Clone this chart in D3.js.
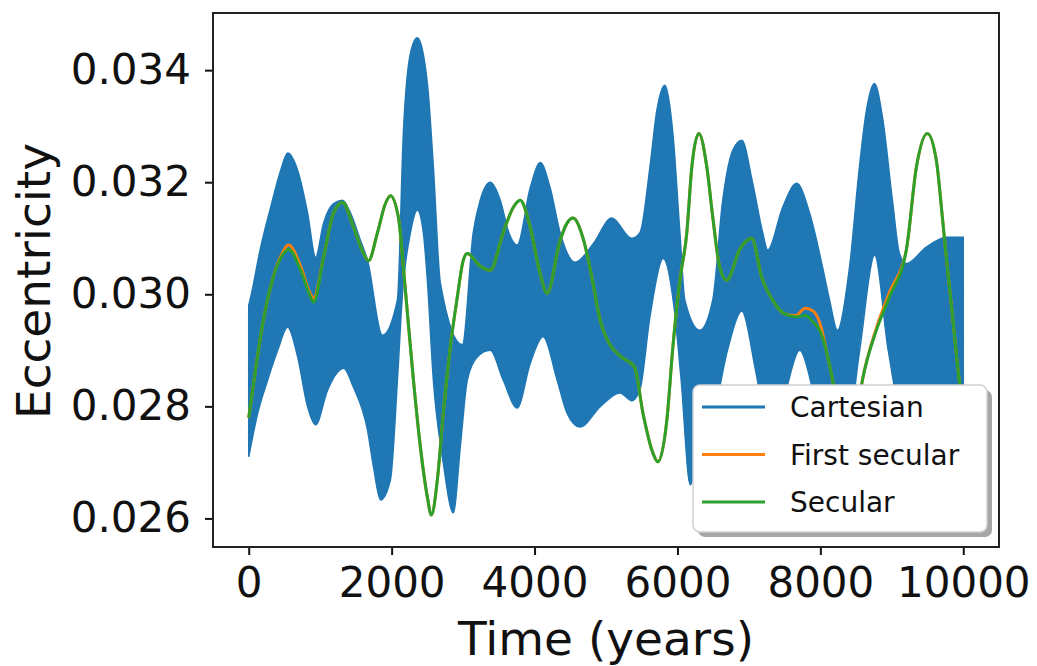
<!DOCTYPE html>
<html>
<head>
<meta charset="utf-8">
<script src="https://cdn.jsdelivr.net/npm/d3@7"></script>
<style>
  body { margin: 0; background: #fff; }
  text { font-family: "DejaVu Sans", sans-serif; fill: #111; }
</style>
</head>
<body>
<div id="chart"></div>
<script>
// Cartesian solution oscillates fast: drawn as the band between its upper and lower envelope
const cartUpperTime = [0, 28, 168, 307, 447, 545, 685, 824, 936, 1047, 1187, 1313, 1425, 1564, 1662, 1870,
  2081, 2165, 2263, 2360, 2500, 2584, 2682, 2990, 3142, 3240, 3380, 3520, 3640, 3757, 3940, 4080,
  4218, 4358, 4567, 4820, 5080, 5360, 5475, 5615, 5712, 5824, 5936, 6034, 6103, 6313, 6494, 6634,
  6774, 6900, 7053, 7193, 7263, 7472, 7668, 7849, 8031, 8128, 8240, 8408, 8547, 8645, 8757, 8869,
  9008, 9106, 9204, 9483, 9763, 10000];
const cartUpper = [0.0298, 0.02995, 0.03084, 0.03155, 0.03221, 0.03252, 0.03221, 0.03145, 0.03066, 0.03127,
  0.03162, 0.03168, 0.03145, 0.03096, 0.03061, 0.02927, 0.0299, 0.0329, 0.0343, 0.03458, 0.03376,
  0.03227, 0.0302, 0.0291, 0.0311, 0.03168, 0.0320, 0.03168, 0.0311, 0.03088, 0.0319, 0.03235,
  0.0319, 0.0311, 0.03057, 0.0309, 0.03136, 0.0310, 0.0311, 0.03227, 0.03328, 0.03373, 0.03287,
  0.0311, 0.0299, 0.02936, 0.0299, 0.03168, 0.03257, 0.03275, 0.03198, 0.0311, 0.03079, 0.03155,
  0.03198, 0.03145, 0.03048, 0.0299, 0.02936, 0.03048, 0.03227, 0.03328, 0.03376, 0.03316, 0.03168,
  0.03073, 0.03055, 0.03084, 0.03102, 0.03102];

const cartLowerTime = [0, 126, 265, 405, 545, 685, 824, 936, 1103, 1243, 1327, 1466, 1662, 1746, 1844,
  1983, 2081, 2151, 2263, 2360, 2444, 2500, 2584, 2723, 2863, 2961, 3059, 3198, 3380, 3561, 3757,
  3940, 4120, 4316, 4455, 4637, 4916, 5196, 5360, 5475, 5615, 5800, 5950, 6050, 6180, 6300, 6500,
  6700, 6900, 7100, 7290, 7500, 7710, 7950, 8270, 8550, 8760, 8950, 9180, 9600, 10000];
const cartLower = [0.0271, 0.02788, 0.02847, 0.0290, 0.02941, 0.02888, 0.02799, 0.02767, 0.02829, 0.02861,
  0.02868, 0.02834, 0.02758, 0.02692, 0.02633, 0.02669, 0.02847, 0.0300, 0.0311, 0.0315, 0.0311,
  0.03025, 0.02847, 0.02699, 0.0261, 0.02728, 0.02847, 0.02888, 0.0290, 0.02847, 0.02797, 0.02877,
  0.02924, 0.02847, 0.02788, 0.02763, 0.02799, 0.02824, 0.0281, 0.0283, 0.0296, 0.03064, 0.0298,
  0.0285, 0.0266, 0.0272, 0.0278, 0.0290, 0.0297, 0.0286, 0.0274, 0.0282, 0.0290, 0.0280, 0.0266,
  0.0290, 0.0307, 0.0290, 0.0277, 0.0279, 0.0279];

// secular curves share one time grid
const secTime = [0, 100, 200, 320, 450, 560, 726, 866, 908, 1047, 1187, 1313, 1466, 1606, 1676, 1802,
  1913, 1983, 2095, 2165, 2221, 2305, 2402, 2500, 2556, 2640, 2723, 2821, 2919, 3003, 3059, 3240,
  3380, 3561, 3701, 3799, 3939, 4078, 4176, 4358, 4455, 4539, 4679, 4818, 4916, 5056, 5196, 5400,
  5517, 5656, 5726, 5852, 5936, 6034, 6131, 6201, 6299, 6411, 6494, 6592, 6690, 6872, 7039, 7180,
  7330, 7500, 7650, 7790, 7900, 7989, 8100, 8170, 8380, 8589, 8785, 8966, 9204, 9344, 9497, 9623,
  9707, 9777, 9846, 9916, 10000];
const secular = [0.0278, 0.0287, 0.0295, 0.0302, 0.03065, 0.0308, 0.03043, 0.02995, 0.02986, 0.03066,
  0.03145, 0.03164, 0.0312, 0.03073, 0.0306, 0.0311, 0.03162, 0.03176, 0.03137, 0.03048, 0.02966,
  0.02847, 0.02728, 0.02638, 0.02606, 0.02669, 0.02788, 0.02906, 0.02995, 0.03061, 0.03073, 0.0305,
  0.03043, 0.0311, 0.03155, 0.03168, 0.0312, 0.03037, 0.03002, 0.03096, 0.03127, 0.03136, 0.0310,
  0.0302, 0.02955, 0.0291, 0.0289, 0.0287, 0.02788, 0.02717, 0.02701, 0.02776, 0.02906, 0.03025,
  0.0311, 0.03227, 0.03287, 0.03227, 0.03138, 0.03048, 0.03025, 0.0308, 0.031, 0.0303, 0.0299,
  0.02965, 0.0296, 0.02962, 0.0295, 0.02936, 0.0289, 0.02847, 0.0266, 0.02847, 0.02936, 0.02995,
  0.0308, 0.03227, 0.03287, 0.03239, 0.03138, 0.03048, 0.02966, 0.02877, 0.0279];
const firstSecular = [0.0278, 0.0287, 0.0295, 0.0302, 0.03068, 0.03088, 0.0305, 0.03, 0.02993, 0.03066,
  0.03145, 0.03164, 0.0312, 0.03073, 0.0306, 0.0311, 0.03162, 0.03176, 0.03137, 0.03048, 0.02966,
  0.02847, 0.02728, 0.02638, 0.02606, 0.02669, 0.02788, 0.02906, 0.02995, 0.03061, 0.03073, 0.0305,
  0.03043, 0.0311, 0.03155, 0.03168, 0.0312, 0.03037, 0.03002, 0.03096, 0.03127, 0.03136, 0.0310,
  0.0302, 0.02955, 0.0291, 0.0289, 0.0287, 0.02788, 0.02717, 0.02701, 0.02776, 0.02906, 0.03025,
  0.0311, 0.03227, 0.03287, 0.03227, 0.03138, 0.03048, 0.03025, 0.0308, 0.031, 0.0303, 0.0299,
  0.02965, 0.02962, 0.02975, 0.0297, 0.0295, 0.0289, 0.02847, 0.0266, 0.02847, 0.0294, 0.03003,
  0.0308, 0.03227, 0.03287, 0.03239, 0.03138, 0.03048, 0.02966, 0.02877, 0.0279];

const xTicks = [0, 2000, 4000, 6000, 8000, 10000];
const yTicks = [0.026, 0.028, 0.030, 0.032, 0.034];
const seriesNames = ["Cartesian", "First secular", "Secular"];
const seriesColors = ["#1f77b4", "#ff7f0e", "#2ca02c"];

const W = 1037, H = 666;
const plot = { left: 213, top: 13, right: 999, bottom: 547 };

const svg = d3.select("#chart").append("svg").attr("width", W).attr("height", H);

const x = d3.scaleLinear().domain([-500, 10500]).range([plot.left, plot.right]);
const y = d3.scaleLinear().domain([0.02549, 0.03502]).range([plot.bottom, plot.top]);

svg.append("clipPath").attr("id", "clip").append("rect")
  .attr("x", plot.left).attr("y", plot.top)
  .attr("width", plot.right - plot.left).attr("height", plot.bottom - plot.top);
const g = svg.append("g").attr("clip-path", "url(#clip)");

const line = d3.line().x(d => x(d[0])).y(d => y(d[1])).curve(d3.curveMonotoneX);

// band: upper envelope forward, lower envelope backward
const upPts = cartUpperTime.map((t, i) => [t, cartUpper[i]]);
const lowPts = cartLowerTime.map((t, i) => [t, cartLower[i]]).reverse();
const bandPath = line(upPts) + "L" + line(lowPts).slice(1) + "Z";
g.append("path").attr("d", bandPath)
  .attr("fill", seriesColors[0]).attr("stroke", seriesColors[0]).attr("stroke-width", 1.5);

g.append("path").datum(secTime.map((t, i) => [t, firstSecular[i]])).attr("d", line)
  .attr("fill", "none").attr("stroke", seriesColors[1]).attr("stroke-width", 3);
g.append("path").datum(secTime.map((t, i) => [t, secular[i]])).attr("d", line)
  .attr("fill", "none").attr("stroke", seriesColors[2]).attr("stroke-width", 3);

// axes
const xAxis = svg.append("g").attr("transform", `translate(0,${plot.bottom})`)
  .call(d3.axisBottom(x).tickValues(xTicks).tickSize(8).tickPadding(12).tickFormat(d3.format("d")));
const yAxis = svg.append("g").attr("transform", `translate(${plot.left},0)`)
  .call(d3.axisLeft(y).tickValues(yTicks).tickSize(8).tickPadding(14).tickFormat(d3.format(".3f")));
[xAxis, yAxis].forEach(a => {
  a.select(".domain").remove();
  a.selectAll(".tick line").attr("stroke", "#111").attr("stroke-width", 2);
  a.selectAll(".tick text").attr("font-size", 42).attr("fill", "#111");
});
xAxis.selectAll(".tick text").attr("dy", "0.71em");

// frame
svg.append("rect").attr("x", plot.left).attr("y", plot.top)
  .attr("width", plot.right - plot.left).attr("height", plot.bottom - plot.top)
  .attr("fill", "none").attr("stroke", "#222").attr("stroke-width", 2);

svg.append("text").attr("x", (plot.left + plot.right) / 2).attr("y", 655)
  .attr("text-anchor", "middle").attr("font-size", 47).text("Time (years)");
svg.append("text").attr("transform", "translate(50,281) rotate(-90)")
  .attr("text-anchor", "middle").attr("font-size", 47).text("Eccentricity");

// legend with shadow
const leg = svg.append("g").attr("transform", "translate(693,385)");
leg.append("rect").attr("x", 5).attr("y", 5).attr("width", 294).attr("height", 147).attr("rx", 7)
  .attr("fill", "#4d4d4d").attr("opacity", 0.5);
leg.append("rect").attr("width", 294).attr("height", 147).attr("rx", 7)
  .attr("fill", "#fff").attr("stroke", "#d0d0d0").attr("stroke-width", 1.5);
seriesNames.forEach((name, i) => {
  const cy = 22 + i * 47.5;
  leg.append("line").attr("x1", 9).attr("x2", 72).attr("y1", cy).attr("y2", cy)
    .attr("stroke", seriesColors[i]).attr("stroke-width", 3);
  leg.append("text").attr("x", 97).attr("y", cy + 10).attr("font-size", 28).text(name);
});
</script>
</body>
</html>
